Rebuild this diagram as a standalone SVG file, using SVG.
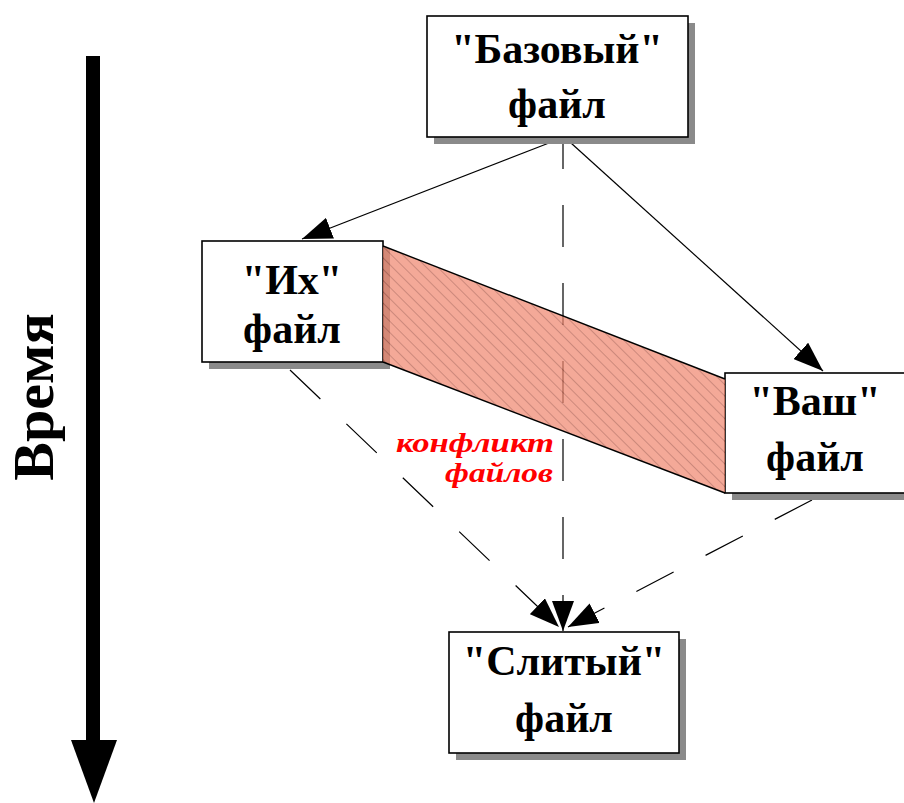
<svg xmlns="http://www.w3.org/2000/svg" width="904" height="803" viewBox="0 0 904 803">
<style>
.box{fill:#fff;stroke:#000;stroke-width:1.6}
.shadow{fill:#8a8a8a}
text{font-family:"Liberation Serif","Times New Roman",serif;font-weight:bold}
.lbl{font-size:42px;text-anchor:middle;fill:#000}
.solid{stroke:#000;stroke-width:1.2;fill:none}
.dash{stroke:#000;stroke-width:1.2;fill:none;stroke-dasharray:42 36}
.conf{font-style:italic;font-size:27px;text-anchor:end;fill:#ff0000}
.time{font-size:58px;text-anchor:middle;fill:#000}
</style>
<defs>
<marker id="ah" markerUnits="userSpaceOnUse" viewBox="0 0 30 22" refX="30" refY="11" markerWidth="30" markerHeight="22" orient="auto">
<path d="M0,0 L30,11 L0,22 z" fill="#000"/>
</marker>
<pattern id="hatch" patternUnits="userSpaceOnUse" width="8" height="8" patternTransform="rotate(-45)">
<rect width="8" height="8" fill="#f08870"/>
<line x1="0" y1="0" x2="0" y2="8" stroke="#a04838" stroke-width="1.4"/>
</pattern>
</defs>
<rect width="904" height="803" fill="#fff"/>

<g id="time-axis">
<rect x="86" y="56" width="14" height="686" fill="#000"/>
<polygon points="71,740 117,740 94,803" fill="#000"/>
<text class="time" transform="translate(53,397) rotate(-90)">Время</text>
</g>

<g id="connectors">
<line class="dash" x1="563" y1="137" x2="563" y2="631" stroke-dashoffset="10" marker-end="url(#ah)"/>
<line class="solid" x1="549" y1="143" x2="302" y2="239" marker-end="url(#ah)"/>
<line class="solid" x1="571" y1="143" x2="823" y2="371" marker-end="url(#ah)"/>
<line class="dash" x1="290" y1="370" x2="559" y2="627" marker-end="url(#ah)"/>
<line class="dash" x1="812" y1="500" x2="568" y2="627" marker-end="url(#ah)"/>
</g>

<g id="node-base">
<rect class="shadow" x="434" y="23" width="261" height="121"/>
<rect class="box" x="427" y="16" width="261" height="121"/>
<text class="lbl" x="557" y="63">"Базовый"</text>
<text class="lbl" x="557" y="118">файл</text>
</g>

<g id="node-theirs">
<rect class="shadow" x="209" y="248" width="181" height="121"/>
<rect class="box" x="202" y="241" width="181" height="121"/>
<text class="lbl" x="292" y="294">"Их"</text>
<text class="lbl" x="292" y="343">файл</text>
</g>

<g id="node-yours">
<rect class="shadow" x="732" y="380" width="181" height="120"/>
<rect class="box" x="725" y="373" width="181" height="120"/>
<text class="lbl" x="815" y="415">"Ваш"</text>
<text class="lbl" x="815" y="471">файл</text>
</g>

<g id="conflict">
<polygon points="383,246 725,379 725,493 383,362" fill="url(#hatch)" fill-opacity="0.72"/>
<line x1="383" y1="246" x2="725" y2="379" stroke="#000" stroke-width="1.4"/>
<line x1="383" y1="362" x2="725" y2="493" stroke="#000" stroke-width="1.4"/>
<text class="conf" x="554" y="452" textLength="158" lengthAdjust="spacingAndGlyphs">конфликт</text>
<text class="conf" x="553" y="482" textLength="108" lengthAdjust="spacingAndGlyphs">файлов</text>
</g>

<g id="node-merged">
<rect class="shadow" x="456" y="639" width="230" height="121"/>
<rect class="box" x="449" y="632" width="230" height="121"/>
<text class="lbl" x="564" y="675">"Слитый"</text>
<text class="lbl" x="564" y="732">файл</text>
</g>
</svg>
